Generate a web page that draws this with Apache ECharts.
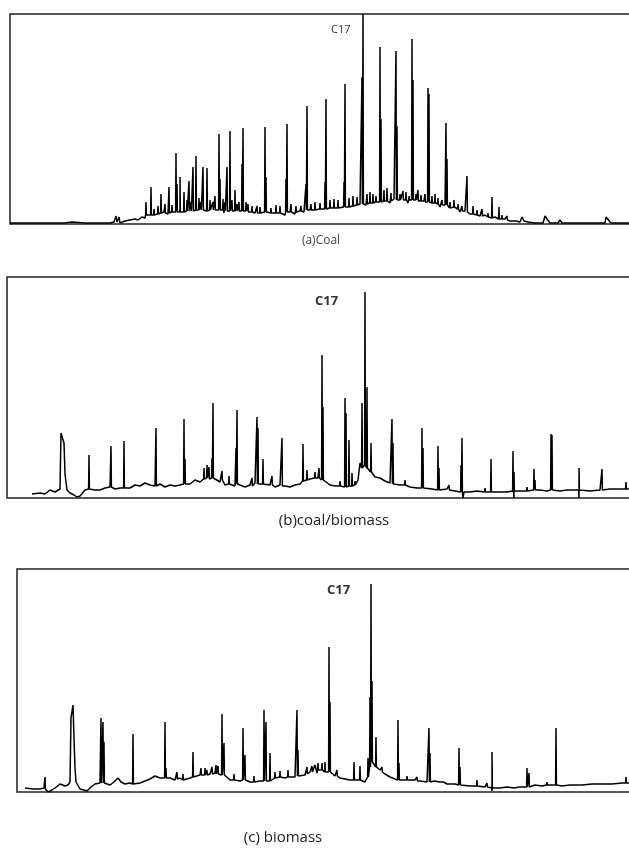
<!DOCTYPE html>
<html>
<head>
<meta charset="utf-8">
<script src="https://cdn.jsdelivr.net/npm/echarts@6/dist/echarts.min.js"></script>
<style>
  html, body { margin: 0; padding: 0; background: #fff; }
  #chart { width: 629px; height: 849px; }
</style>
</head>
<body>
<div id="chart"></div>
<script>
// retention time (arbitrary units) vs detector response (arbitrary units)
// baseline points: [time, response]
var baseA = [[0,1],[20,1],[40,1],[55,1],[62,2],[64,1],[75,1],[90,1],[100,1],[104,2],[106,8],[107,2],[109,7],[110,1],[115,3],[120,4],[125,5],[128,4],[132,7],[135,6],[138,9],[142,8],[146,10],[150,9],[154,12],[158,10],[162,13],[166,11],[170,15],[174,12],[178,14],[182,13],[186,16],[190,13],[194,15],[198,12],[202,14],[206,12],[210,15],[214,11],[218,14],[222,12],[226,13],[230,11],[236,13],[240,10],[245,11],[250,10],[258,12],[262,10],[270,11],[275,9],[280,12],[285,10],[290,13],[294,12],[300,14],[305,13],[310,15],[315,14],[320,16],[325,15],[330,17],[336,16],[340,19],[345,17],[350,20],[356,19],[360,22],[364,19],[368,23],[372,20],[376,24],[380,21],[384,25],[388,22],[392,24],[398,21],[404,26],[408,22],[414,23],[420,20],[425,22],[430,17],[435,19],[440,14],[445,16],[450,12],[455,13],[460,10],[465,11],[470,8],[475,9],[480,6],[485,7],[490,4],[495,5],[500,3],[506,3],[510,2],[512,7],[514,3],[518,2],[525,1],[533,1],[535,8],[537,5],[540,1],[548,1],[550,4],[552,1],[560,1],[580,1],[595,1],[596,7],[598,6],[601,1],[615,1],[625,1]];
// peaks: [time, base, apex]
var peaksA = [[136,9,22],[141,9,37],[144,9,15],[148,10,18],[151,11,30],[155,11,20],[159,11,37],[162,12,19],[166,12,71],[167,12,40],[170,12,47],[174,12,32],[177,13,24],[179,13,43],[181,13,22],[183,13,57],[186,14,68],[189,14,26],[191,14,22],[193,14,57],[197,13,56],[200,14,24],[203,14,22],[205,14,28],[209,14,90],[210,14,45],[213,14,25],[215,13,22],[217,13,57],[220,13,93],[222,13,24],[225,13,34],[227,13,20],[229,13,22],[232,13,60],[233,13,96],[236,13,22],[238,12,20],[242,12,18],[247,11,18],[250,11,17],[255,12,97],[256,12,47],[261,11,16],[266,11,19],[270,11,18],[276,12,45],[277,12,100],[281,12,20],[286,12,18],[291,13,18],[296,14,40],[297,14,118],[301,14,20],[305,14,22],[310,15,21],[315,15,42],[316,15,125],[320,16,24],[324,16,25],[328,16,24],[334,17,42],[335,17,140],[339,17,26],[343,18,28],[347,19,27],[352,20,147],[353,20,210],[357,20,30],[360,21,32],[363,21,30],[366,22,28],[370,22,177],[371,22,105],[374,23,34],[377,23,36],[381,23,31],[386,24,173],[387,24,98],[390,24,30],[393,24,33],[396,24,32],[399,24,28],[402,24,185],[403,24,144],[406,24,30],[408,23,34],[411,23,29],[415,22,30],[418,22,136],[419,22,130],[422,21,28],[425,21,30],[428,20,26],[432,19,24],[436,19,101],[437,19,65],[440,16,22],[444,17,24],[448,15,20],[452,13,18],[457,12,48],[463,10,18],[467,9,14],[472,8,15],[478,7,11],[482,6,27],[489,5,17],[492,5,9],[497,4,8]];

var baseB = [[25,4],[33,5],[38,4],[43,8],[48,6],[53,9],[54,65],[56,65],[57,55],[58,24],[60,8],[63,5],[67,3],[70,1],[73,2],[78,8],[83,10],[88,8],[93,8],[98,10],[103,11],[108,9],[113,10],[118,12],[123,10],[128,13],[133,12],[138,15],[143,13],[148,12],[153,14],[158,11],[163,13],[168,12],[173,13],[178,15],[183,14],[188,18],[193,16],[198,20],[203,18],[208,19],[213,16],[218,13],[223,14],[228,12],[233,13],[238,11],[243,13],[248,15],[253,12],[258,14],[263,13],[268,11],[273,13],[278,12],[283,11],[288,13],[293,14],[298,17],[303,19],[308,18],[311,20],[318,16],[323,13],[328,12],[333,11],[338,12],[343,11],[348,13],[351,18],[353,35],[358,33],[362,30],[365,28],[368,21],[373,20],[378,17],[383,15],[388,14],[393,13],[398,12],[403,11],[410,10],[418,10],[425,9],[433,8],[440,9],[448,7],[456,0],[457,6],[463,6],[470,7],[478,5],[485,6],[493,6],[500,6],[507,0],[508,6],[515,7],[522,6],[533,8],[540,7],[553,7],[560,8],[572,0],[573,8],[583,7],[593,8],[603,9],[613,9],[622,9]];
var peaksB = [[82,9,43],[104,11,52],[117,10,57],[149,12,70],[177,14,79],[178,14,39],[197,19,30],[200,20,33],[202,19,31],[205,20,40],[206,20,95],[215,18,27],[222,14,22],[229,14,50],[230,14,88],[245,12,20],[250,14,81],[251,14,70],[256,14,39],[265,13,22],[275,12,60],[296,17,54],[300,18,28],[308,20,26],[312,20,30],[315,18,143],[316,18,91],[333,12,17],[338,11,100],[339,11,85],[342,12,58],[345,12,25],[348,13,17],[355,30,95],[358,33,206],[360,30,111],[364,26,55],[385,14,79],[386,14,55],[398,13,18],[415,10,70],[416,10,50],[431,8,52],[432,8,30],[442,8,13],[454,6,33],[455,6,60],[478,6,10],[484,6,39],[506,7,47],[507,7,26],[520,7,11],[527,8,29],[528,8,18],[544,8,64],[545,8,63],[572,8,30],[595,8,29],[619,9,16]];

var baseC = [[8,4],[16,3],[23,3],[27,4],[31,0],[35,2],[38,4],[43,8],[48,6],[51,7],[53,10],[54,74],[55,74],[56,87],[57,54],[58,24],[59,10],[63,3],[67,2],[70,1],[74,5],[78,8],[83,9],[88,8],[93,7],[97,10],[101,14],[104,10],[108,8],[113,9],[118,8],[123,9],[128,11],[133,13],[138,16],[143,14],[148,13],[153,14],[158,12],[163,14],[168,13],[173,14],[178,16],[183,17],[188,16],[193,18],[198,19],[203,17],[208,15],[213,12],[218,13],[223,11],[228,12],[233,10],[238,12],[243,11],[248,13],[253,12],[258,14],[263,15],[268,14],[273,16],[278,15],[283,18],[288,17],[293,20],[298,27],[300,19],[303,22],[308,21],[314,19],[318,16],[323,14],[328,13],[333,12],[338,11],[343,12],[348,10],[352,17],[355,32],[359,27],[363,22],[368,18],[373,15],[378,13],[383,12],[390,11],[398,12],[403,11],[410,10],[417,11],[423,10],[430,8],[438,8],[445,7],[453,6],[460,5],[468,5],[475,1],[477,4],[483,4],[490,5],[497,4],[503,5],[510,6],[518,7],[525,6],[535,7],[545,6],[553,7],[565,7],[575,8],[583,8],[595,8],[605,9],[612,9],[625,9]];
var peaksC = [[28,3,15],[84,9,74],[86,9,70],[87,9,50],[116,8,58],[148,14,70],[149,14,24],[160,13,20],[166,12,18],[176,15,40],[184,17,24],[188,17,24],[190,17,22],[195,18,25],[199,18,27],[201,18,26],[205,17,78],[207,17,49],[217,12,18],[226,12,64],[228,12,37],[237,10,16],[247,11,82],[249,11,70],[253,11,39],[258,14,20],[263,15,21],[271,15,22],[280,16,82],[281,16,42],[290,18,25],[295,20,26],[301,22,29],[305,22,29],[308,20,30],[312,20,145],[313,20,90],[320,16,22],[337,12,30],[343,12,26],[351,15,34],[353,25,95],[354,30,208],[355,30,111],[359,25,55],[365,20,25],[381,12,72],[382,12,29],[390,12,16],[400,11,15],[412,10,64],[413,10,39],[427,10,12],[442,7,44],[443,7,25],[460,6,12],[470,5,9],[475,4,40],[510,5,24],[512,5,19],[530,7,10],[539,7,64],[593,8,10],[609,9,15]];

var captions = ['(a)Coal', '(b)coal/biomass', '(c) biomass'];
var peakLabel = 'C17';

function trace(base, peaks) {
  var pts = base.map(function (p) { return [p[0], p[1]]; });
  peaks.forEach(function (p) {
    pts.push([p[0] - 0.4, p[1]], [p[0], p[2]], [p[0] + 0.4, p[1]]);
  });
  pts.sort(function (a, b) { return a[0] - b[0]; });
  return pts;
}

var panels = [
  { left: 10, top: 14, height: 210, data: trace(baseA, peaksA) },
  { left: 7, top: 277, height: 221, data: trace(baseB, peaksB) },
  { left: 17, top: 569, height: 223, data: trace(baseC, peaksC) }
];

var chart = echarts.init(document.getElementById('chart'));

var hidden = {
  axisLine: { show: false }, axisTick: { show: false },
  axisLabel: { show: false }, splitLine: { show: false }
};

var option = {
  animation: false,
  backgroundColor: '#fff',
  grid: panels.map(function (p) {
    return {
      left: p.left, top: p.top, width: 625, height: p.height,
      outerBoundsMode: 'none', containLabel: false,
      show: true, borderColor: '#222', borderWidth: 1.5,
      backgroundColor: 'transparent'
    };
  }),
  xAxis: panels.map(function (p, i) {
    return Object.assign({ type: 'value', gridIndex: i, min: 0, max: 625 }, hidden);
  }),
  yAxis: panels.map(function (p, i) {
    return Object.assign({ type: 'value', gridIndex: i, min: 0, max: p.height }, hidden);
  }),
  series: panels.map(function (p, i) {
    return {
      type: 'line', xAxisIndex: i, yAxisIndex: i,
      data: p.data, showSymbol: false, symbol: 'none',
      lineStyle: { color: '#000', width: 1.5 },
      silent: true
    };
  }),
  graphic: [
    { type: 'text', left: 331, top: 24, style: { text: peakLabel, font: '11px "Open Sans", sans-serif', fill: '#333' } },
    { type: 'text', left: 315, top: 295, style: { text: peakLabel, font: 'bold 13px "Open Sans", sans-serif', fill: '#333' } },
    { type: 'text', left: 327, top: 584, style: { text: peakLabel, font: 'bold 13px "Open Sans", sans-serif', fill: '#333' } },
    { type: 'text', x: 321, y: 241, style: { text: captions[0], font: '12px "Open Sans", sans-serif', fill: '#444', align: 'center', verticalAlign: 'middle' } },
    { type: 'text', x: 334, y: 521, style: { text: captions[1], font: '15px "Open Sans", sans-serif', fill: '#222', align: 'center', verticalAlign: 'middle' } },
    { type: 'text', x: 283, y: 838, style: { text: captions[2], font: '15px "Open Sans", sans-serif', fill: '#222', align: 'center', verticalAlign: 'middle' } }
  ]
};

chart.setOption(option);
window.addEventListener('resize', function () { chart.resize(); });
</script>
</body>
</html>
